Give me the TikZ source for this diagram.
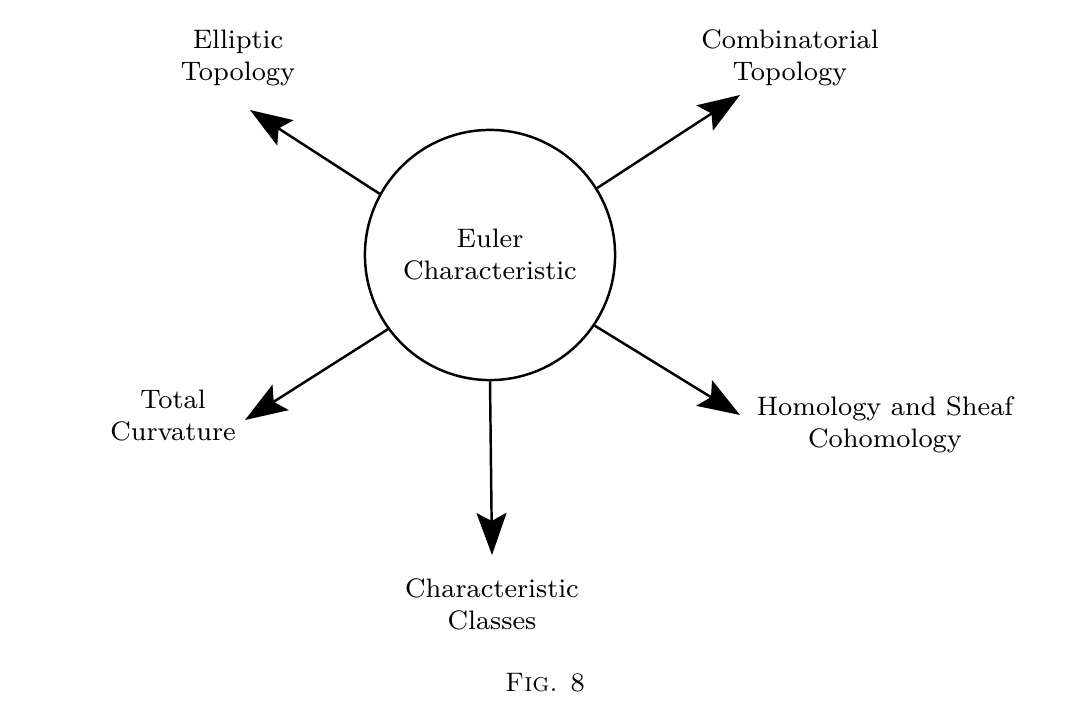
\documentclass[tikz,border=0pt]{standalone}
\usepackage{tikz}
\usetikzlibrary{arrows.meta}
\begin{document}
\begin{tikzpicture}[x=0.01cm,y=-0.01cm,
    font=\fontsize{7.6}{9.1}\selectfont,
    topic/.style={align=center,inner sep=0pt},
    link/.style={line width=0.7pt,-{Stealth[length=0.42cm,width=0.3cm,inset=0.08cm]}}]
        \useasboundingbox (0,0) rectangle (1080,713);
        \node[draw,circle,line width=0.7pt,minimum size=2.5cm,align=center] (euler) at (490,255)
        {Euler\\Characteristic};
        \node[topic] (ell) at (238,58) {Elliptic\\Topology};
        \node[topic] (comb) at (790,58) {Combinatorial\\Topology};
        \node[topic] (curv) at (173,416) {Total\\Curvature};
        \node[topic] (hom) at (885,425) {Homology and Sheaf\\Cohomology};
        \node[topic] (cls) at (492,604) {Characteristic\\Classes};
        \node[topic] (fig) at (545,683) {\textsc{Fig.} 8};
        % arrow ends
        \coordinate (ellend) at (250,110);
        \coordinate (combend) at (740,95);
        \coordinate (curvend) at (245,420);
        \coordinate (homend) at (740,415);
        \coordinate (clsend) at (492,555);
        \draw[link] (euler.151) -- (ellend);
        \draw[link] (euler.32) -- (combend);
        \draw[link] (euler.216) -- (curvend);
        \draw[link] (euler.326) -- (homend);
        \draw[link] (euler.270) -- (clsend);
\end{tikzpicture}
\end{document}
